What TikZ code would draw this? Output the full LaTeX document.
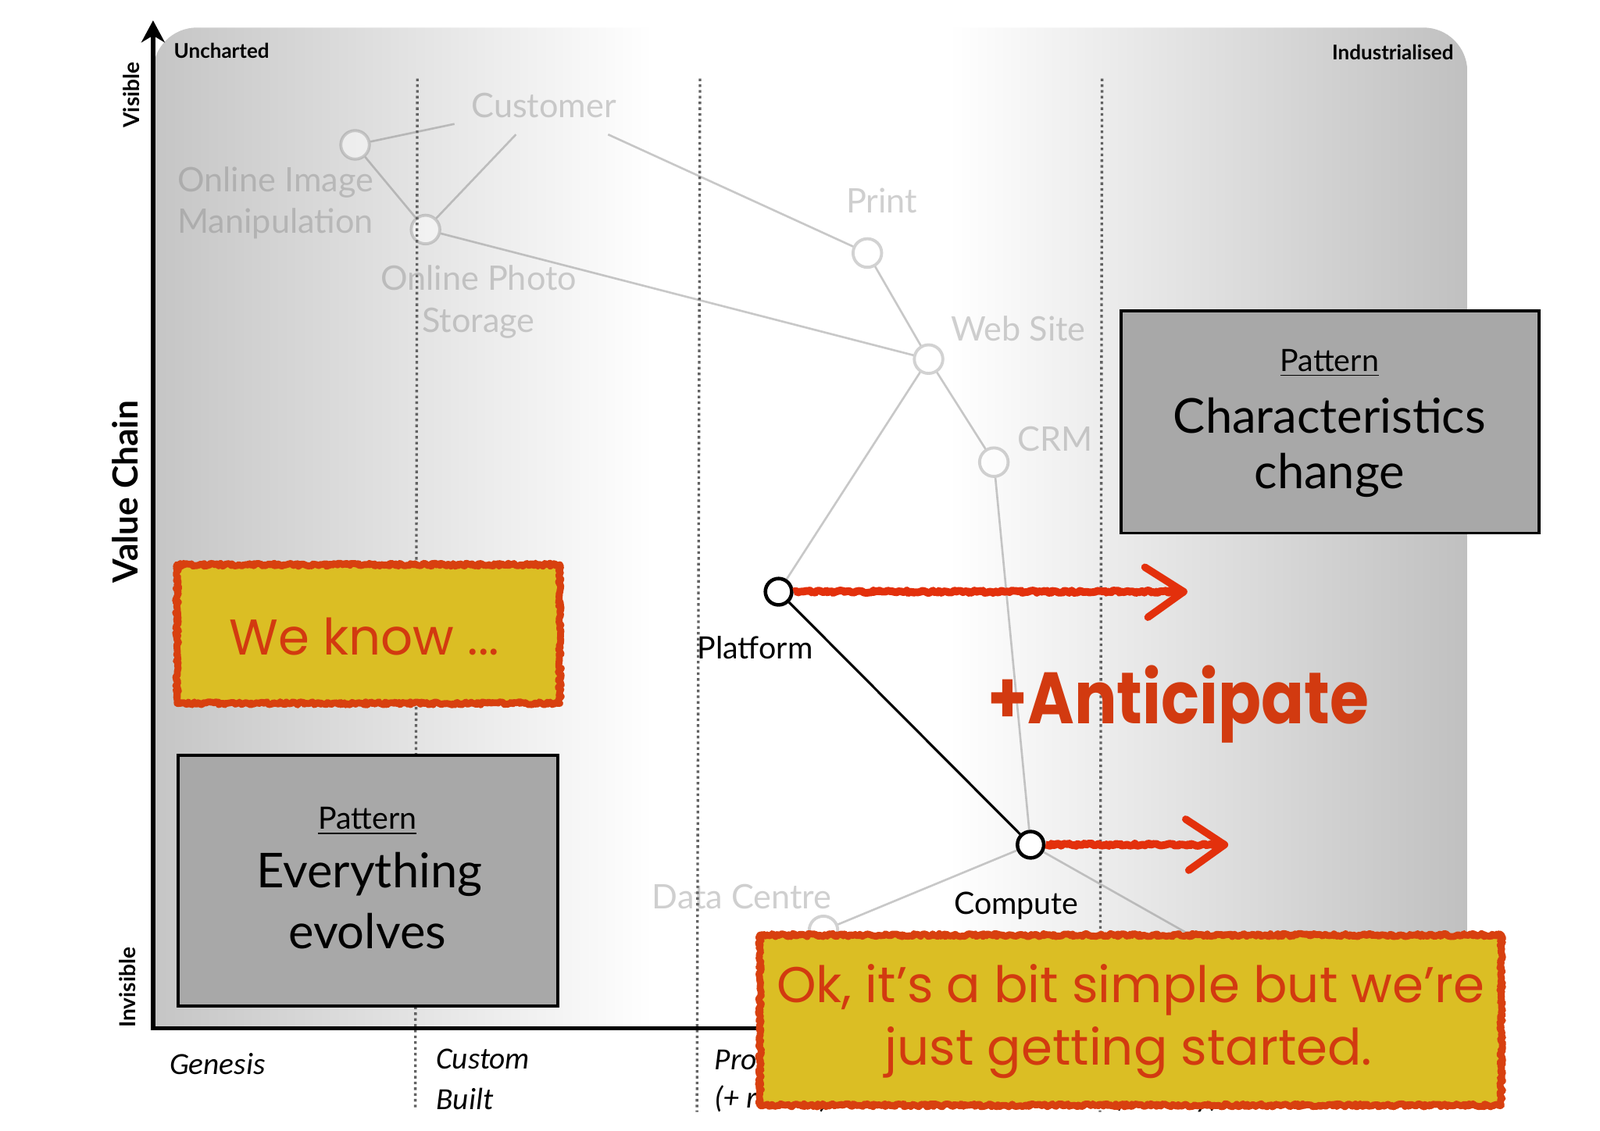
\documentclass[tikz,border=0pt]{standalone}
\usepackage{fontspec}
\setmainfont{Lato}
\newfontfamily\italfont{Carlito}
\newfontfamily\comicfont{Poppins}
\usetikzlibrary{arrows.meta,decorations.pathmorphing,calc}
\definecolor{panelL}{HTML}{C5C5C5}
\definecolor{panelR}{HTML}{C0C0C0}
\definecolor{fadeink}{HTML}{7C7C7C}
\definecolor{boxgray}{HTML}{A8A8A8}
\definecolor{noteyellow}{HTML}{DBBE24}
\definecolor{notered}{HTML}{D8400F}
\definecolor{arrowred}{HTML}{E3300C}
\definecolor{textred}{HTML}{D23A10}
\definecolor{dotgray}{HTML}{626262}
\begin{document}
\begin{tikzpicture}[x=0.01306cm,y=-0.01306cm,
  fadecircle/.style={circle,draw=fadeink,draw opacity=0.34,fill=white,fill opacity=0.5,line width=1.1pt,minimum size=10.4pt,inner sep=0pt},
  keycircle/.style={circle,draw=black,fill=white,line width=1.3pt,minimum size=9.6pt,inner sep=0pt},
  fadelabel/.style={text=fadeink,text opacity=0.36,font=\fontsize{12.3}{15.2}\selectfont,align=center,inner sep=0pt},
  keylabel/.style={text=black,font=\fontsize{11.2}{13}\selectfont,inner sep=0pt},
  fadelink/.style={draw=fadeink,draw opacity=0.42,line width=0.75pt},
  keylink/.style={draw=black,line width=0.9pt},
  evodiv/.style={draw=dotgray,line width=0.95pt,dash pattern=on 0.95pt off 1.15pt},
  graybox/.style={rectangle,draw=black,line width=1.1pt,fill=boxgray,inner sep=0pt},
  notebox/.style={rectangle,draw=notered,line width=2.5pt,line join=round,fill=noteyellow,inner sep=0pt,decorate,decoration={random steps,segment length=0.6pt,amplitude=0.55pt}},
  redarrow/.style={draw=arrowred,line width=2.8pt,line join=round,decorate,decoration={random steps,segment length=0.7pt,amplitude=0.45pt}},
  redhead/.style={draw=arrowred,line width=2.7pt,line cap=round,line join=round},
  cornerlabel/.style={font=\bfseries\fontsize{7.4}{9}\selectfont,inner sep=0pt},
  sidelabel/.style={font=\bfseries\fontsize{8}{9}\selectfont,inner sep=0pt,rotate=90},
  boxsmall/.style={font=\fontsize{11.2}{13}\selectfont,inner sep=0pt},
  boxbig/.style={font=\fontsize{17.5}{21}\selectfont,inner sep=0pt},
  redtext/.style={text=textred,font=\comicfont\fontsize{18.3}{22}\selectfont,inner sep=0pt},
  stagelabel/.style={font=\italfont\itshape\fontsize{11.2}{14.5}\selectfont,inner sep=0pt,anchor=west}
]
\useasboundingbox (0,0) rectangle (1568,1108);

% background panel
\begin{scope}
  \clip[rounded corners=16] (150,27) rectangle (1438,1040);
  \shade[left color=panelL,right color=white] (150,27) rectangle (640,1008);
  \fill[white] (639,27) rectangle (931,1008);
  \shade[left color=white,right color=panelR] (930,27) rectangle (1438,1008);
\end{scope}

% faded value chain
\node[fadecircle] (oim) at (348,142) {};
\node[fadecircle] (ops) at (417,225) {};
\node[fadelabel,inner sep=6pt] (cust) at (533,103) {Customer};
\node[fadecircle] (print) at (850,248) {};
\node[fadecircle] (web) at (910,352) {};
\node[fadecircle] (crm) at (974,453) {};
\node[fadecircle] (dc) at (807,912) {};
\coordinate (util) at (1240,958);

\node[keycircle] (plat) at (763,580) {};
\node[keycircle] (comp) at (1010,828) {};

\draw[fadelink] (oim) -- (cust);
\draw[fadelink] (ops) -- (cust);
\draw[fadelink] (oim) -- (ops);
\draw[fadelink] (cust) -- (print);
\draw[fadelink] (ops) -- (web);
\draw[fadelink] (print) -- (web);
\draw[fadelink] (web) -- (crm);
\draw[fadelink] (web) -- (plat);
\draw[fadelink] (crm) -- (comp);
\draw[fadelink] (comp) -- (dc);
\draw[fadelink] (comp) -- (util);
\draw[keylink] (plat) -- (comp);

\node[fadelabel] (oiml) at (270,199) {Online Image\\Manipulation};
\node[fadelabel] (opsl) at (469,296) {Online Photo\\Storage};
\node[fadelabel] (printl) at (864,197) {Print};
\node[fadelabel] (webl) at (998,322) {Web Site};
\node[fadelabel] (crml) at (1034,430) {CRM};
\node[fadelabel] (dcl) at (727,879) {Data Centre};
\node[keylabel] (platl) at (740,635) {Platform};
\node[keylabel] (compl) at (996,888) {Compute};

% evolution dividers
\coordinate (d1t) at (409,77); \coordinate (d1b) at (407,1088);
\coordinate (d2t) at (686,77); \coordinate (d2b) at (683,1090);
\coordinate (d3t) at (1080,77); \coordinate (d3b) at (1078,1090);
\draw[evodiv] (d1t) -- (d1b);
\draw[evodiv] (d2t) -- (d2b);
\draw[evodiv] (d3t) -- (d3b);

% red movement arrows
\coordinate (platto) at (1160,580);
\coordinate (compto) at (1200,828);
\draw[redarrow] (plat.east) -- (platto);
\draw[redhead] ($(platto)+(-38,-24)$) -- (platto) -- ($(platto)+(-35,25)$);
\draw[redarrow] (comp.east) -- (compto);
\draw[redhead] ($(compto)+(-38,-25)$) -- (compto) -- ($(compto)+(-35,25)$);

\node[text=textred,font=\comicfont\bfseries\fontsize{26.5}{30}\selectfont,inner sep=0pt] (antic) at (1155,690) {\scalebox{0.87}[1]{+Anticipate}};

% axis labels
\node[cornerlabel,anchor=west] (unch) at (170,50) {Uncharted};
\node[cornerlabel,anchor=east] (indu) at (1425,51) {Industrialised};
\node[sidelabel] (vis) at (129,93) {Visible};
\node[sidelabel] (invis) at (125,968) {Invisible};
\node[font=\bfseries\fontsize{12.6}{15}\selectfont,rotate=90,inner sep=0pt] (vchain) at (123,482) {Value Chain};

\node[stagelabel,anchor=center] (gen) at (213,1043) {Genesis};
\node[stagelabel] (cust1) at (427,1038) {Custom};
\node[stagelabel] (cust2) at (427,1077) {Built};
\node[stagelabel] (prod1) at (700,1038) {Product};
\node[stagelabel] (prod2) at (700,1077) {(+ rental)};
\node[stagelabel] (comm2) at (1092,1077) {(+utility)};

% axes
\coordinate (ytop) at (150,20);
\coordinate (origin) at (150,1008);
\coordinate (xend) at (1440,1008);
\draw[line width=1.6pt,{Stealth[length=8pt,width=8.5pt,inset=2.5pt]}-] (ytop) -- (origin) -- (xend);

% pattern boxes
\node[graybox,minimum width=152.4pt,minimum height=81pt] (charbox) at (1303.5,413.5) {};
\node[boxsmall] (charp) at (1303,356) {\underline{Pattern}};
\node[boxbig] (char1) at (1303,407) {Characteristics};
\node[boxbig] (char2) at (1303,466) {change};

\node[graybox,minimum width=138.2pt,minimum height=91.4pt] (evobox) at (360.5,863) {};
\node[boxsmall] (evop) at (360,805) {\underline{Pattern}};
\node[boxbig] (evo1) at (362,857) {Everything};
\node[boxbig] (evo2) at (360,913) {evolves};

% notes
\node[notebox,minimum width=139.4pt,minimum height=50.5pt] (knowbox) at (361,621.5) {};
\node[redtext] (know) at (357,624) {We know ...};

\node[notebox,minimum width=270pt,minimum height=62pt] (okbox) at (1108,1000) {};
\node[redtext] (ok1) at (1108,970) {Ok, it’s a bit simple but we’re};
\node[redtext] (ok2) at (1106,1032) {just getting started.};
\end{tikzpicture}
\end{document}
